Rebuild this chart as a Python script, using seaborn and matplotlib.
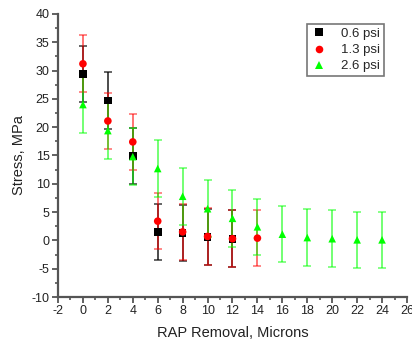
import numpy as np
import pandas as pd
import matplotlib
matplotlib.use("Agg")
import matplotlib.pyplot as plt
import seaborn as sns
from matplotlib.ticker import MultipleLocator

# Data
x_06 = [0, 2, 4, 6, 8, 10, 12]
y_06 = [29.4, 24.7, 14.9, 1.5, 1.3, 0.6, 0.3]
e_06 = [5, 5, 5, 5, 5, 5, 5]

x_13 = [0, 2, 4, 6, 8, 10, 12, 14]
y_13 = [31.2, 21.1, 17.4, 3.4, 1.5, 0.7, 0.3, 0.4]
e_13 = [5, 5, 5, 5, 5, 5, 5, 5]

x_26 = [0, 2, 4, 6, 8, 10, 12, 14, 16, 18, 20, 22, 24]
y_26 = [24.0, 19.4, 14.8, 12.7, 7.8, 5.6, 3.9, 2.4, 1.1, 0.5, 0.3, 0.1, 0.1]
e_26 = [5, 5, 5, 5, 5, 5, 5, 5, 5, 5, 5, 5, 5]

labels = ["0.6 psi", "1.3 psi", "2.6 psi"]
colors = ["#000000", "#FF0000", "#00FF00"]
markers = ["s", "o", "^"]

df = pd.concat([
    pd.DataFrame({"x": x_06, "y": y_06, "e": e_06, "series": labels[0]}),
    pd.DataFrame({"x": x_13, "y": y_13, "e": e_13, "series": labels[1]}),
    pd.DataFrame({"x": x_26, "y": y_26, "e": e_26, "series": labels[2]}),
], ignore_index=True)

sns.set_style("white")
plt.rcParams['font.family'] = ['Liberation Sans', 'DejaVu Sans']
plt.rcParams['axes.unicode_minus'] = False

fig = plt.figure(figsize=(4.12, 3.41), dpi=100)
ax = fig.add_axes([0.1408, 0.129, 0.847, 0.830])

# error bars
for lab, col in zip(labels, colors):
    d = df[df.series == lab]
    ax.errorbar(d.x, d.y, yerr=d.e, fmt='none', ecolor=col, elinewidth=1.4,
                capsize=3, capthick=1.2, alpha=0.55 if col != "#000000" else 0.7, zorder=2)

sns.scatterplot(data=df, x="x", y="y", hue="series", style="series",
                palette=dict(zip(labels, colors)),
                markers=dict(zip(labels, markers)),
                s=30, edgecolor='none', linewidth=0, ax=ax, zorder=3, legend=True)

ax.set_xlim(-2, 26)
ax.set_ylim(-10, 40)
ax.xaxis.set_major_locator(MultipleLocator(2))
ax.xaxis.set_minor_locator(MultipleLocator(1))
ax.yaxis.set_major_locator(MultipleLocator(5))
ax.yaxis.set_minor_locator(MultipleLocator(2.5))

for s in ["top", "right"]:
    ax.spines[s].set_visible(False)
for s in ["left", "bottom"]:
    ax.spines[s].set_color("#555555")
    ax.spines[s].set_linewidth(1.6)

ax.tick_params(which='major', direction='out', length=4, width=1.3, color="#555555",
               labelsize=9, labelcolor="#222222", bottom=True, left=True, pad=2)
ax.tick_params(which='minor', direction='out', length=2.5, width=1.2, color="#555555",
               bottom=True, left=True)

ax.set_xlabel("RAP Removal, Microns", fontsize=10.5, color="#222222", labelpad=6)
ax.set_ylabel("Stress, MPa", fontsize=10.5, color="#222222", labelpad=4)

handles, lbls = ax.get_legend_handles_labels()
leg = ax.legend(handles, lbls, loc='upper right', bbox_to_anchor=(0.934, 0.965),
                fontsize=9.5, frameon=True, fancybox=False, edgecolor="#555555",
                borderpad=0.3, handletextpad=1.0, labelspacing=0.3, handlelength=1.3,
                borderaxespad=0, markerscale=1.0)
leg.get_frame().set_linewidth(1.2)

fig.savefig("out.png", dpi=100)
